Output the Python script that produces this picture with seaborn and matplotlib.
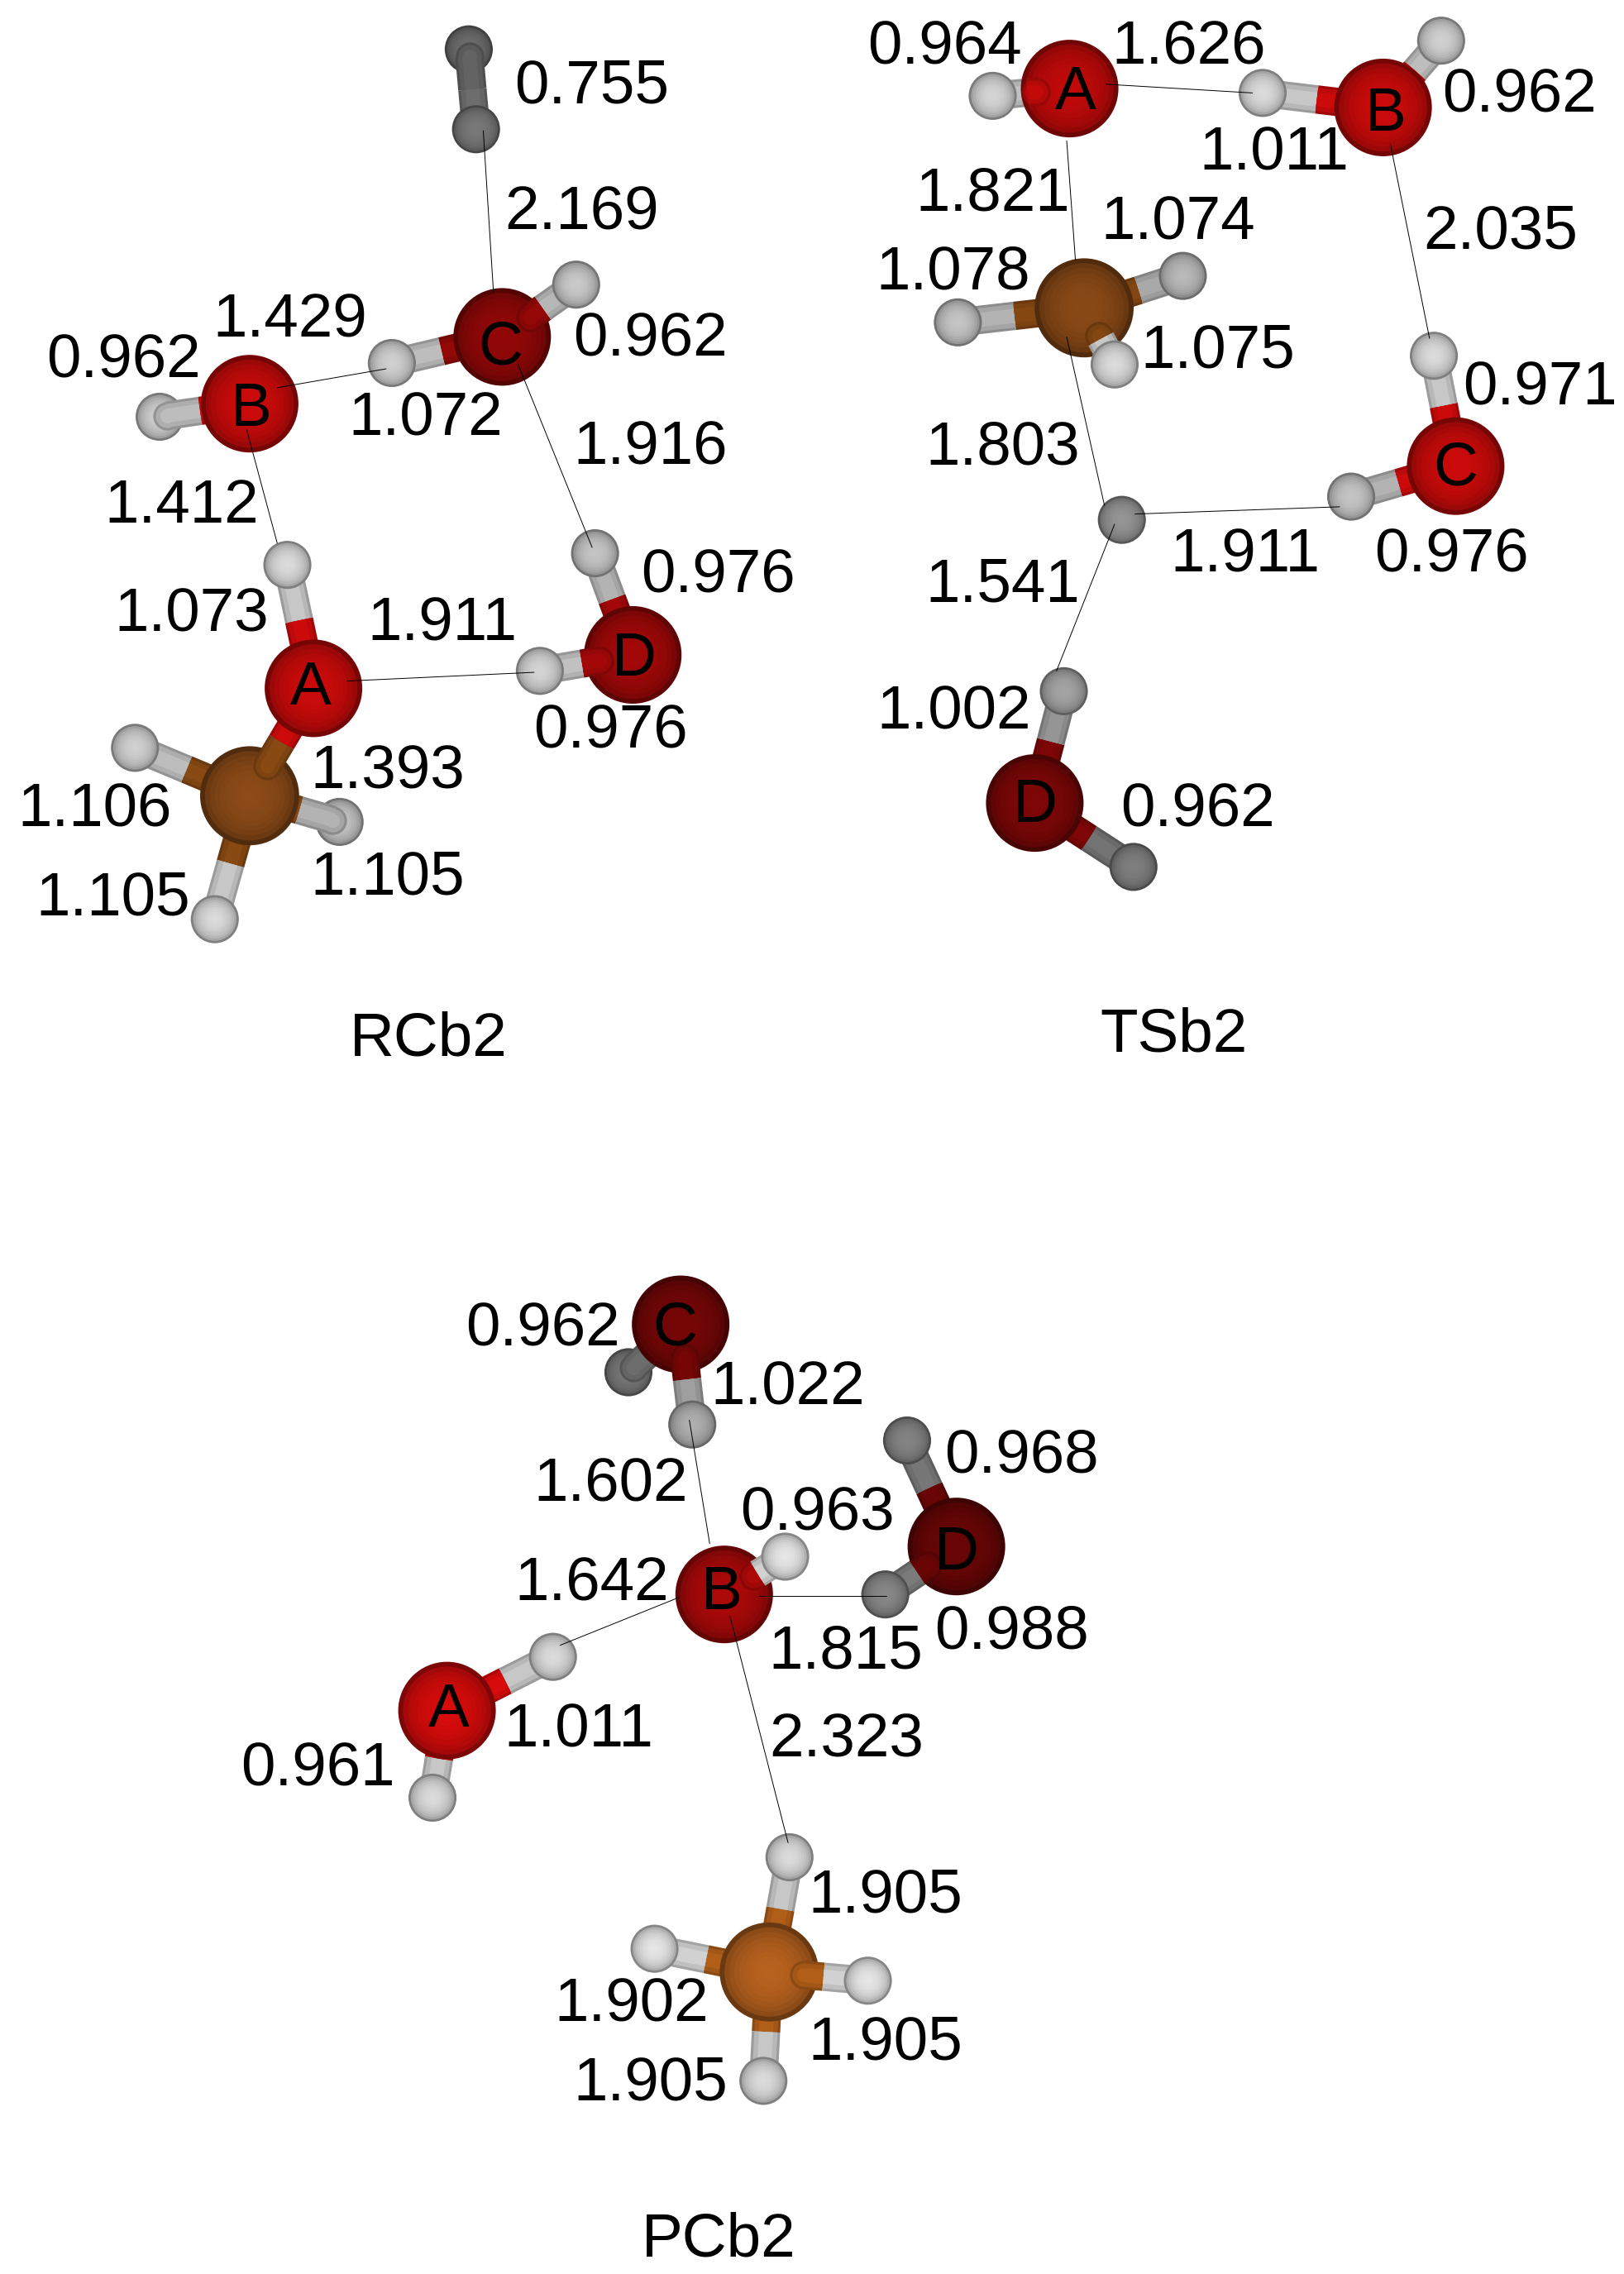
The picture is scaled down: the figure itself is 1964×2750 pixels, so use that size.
import numpy as np
import pandas as pd
import seaborn as sns
import matplotlib
matplotlib.use("Agg")
import matplotlib.pyplot as plt

# ---------- RCb2 ----------
rc_elem = ["O","O","O","O","C","H","H","H","H","H","H","H","H","H","H","H"]
rc_x = [216,172,346,436,172,198,93,148,234,110,270,397,410,372,323,328]
rc_y = [474,278,232,451,548,389,515,633,566,287,250,196,381,462,34,89]
rc_z = [.90,.85,.50,.60,.70,.80,.80,.90,.65,.80,.70,.60,.65,.65,.20,.25]
rc_shade = [1.0,1.0,.72,.80,.92,1.0,.95,1.0,.90,.95,.95,.92,.90,.97,.50,.55]
rc_bonds = [(0,4),(0,5),(1,9),(2,10),(2,11),(3,12),(3,13),(4,6),(4,7),(4,8),(14,15)]
rc_over = [(4,0),(2,11),(3,13),(9,1),(8,4),(14,15)]
rc_thin_x0 = [333,191,357,170,239]
rc_thin_y0 = [90,267,251,296,469]
rc_thin_x1 = [340,266,408,191,368]
rc_thin_y1 = [201,254,377,374,463]
rc_text = ["0.755","2.169","1.429","0.962","0.962","1.072","1.916","1.412","0.976","1.073","1.911","0.976","1.393","1.106","1.105","1.105","RCb2","A","B","C","D"]
rc_tx = [408,401,200,85,448,293,448,125,495,132,305,421,267,65,78,267,295,214,173,345,437]
rc_ty = [58,145,219,247,232,287,307,347,395,422,428,502,530,556,617,603,714,472,280,238,452]

# ---------- TSb2 ----------
ts_elem = ["O","O","O","O","C","H","H","H","H","H","H","H","H","H","H","H"]
ts_x = [737,953,1003,713,747,684,870,993,988,931,773,733,781,660,815,768]
ts_y = [61,74,321,553,212,66,64,28,245,342,358,476,597,222,190,251]
ts_z = [.80,.80,.80,.30,.65,.70,.75,.70,.85,.85,.50,.40,.25,.60,.60,.90]
ts_shade = [.95,1.0,1.0,.62,.90,.97,1.0,.95,1.0,.90,.68,.75,.58,.90,.85,1.0]
ts_bonds = [(0,5),(1,6),(1,7),(2,8),(2,9),(3,11),(3,12),(4,13),(4,14),(4,15)]
ts_over = [(0,5),(4,15)]
ts_thin_x0 = [762,735,735,782,768,958]
ts_thin_y0 = [58,97,232,354,361,99]
ts_thin_x1 = [863,741,761,923,728,985]
ts_thin_y1 = [64,179,348,349,462,233]
ts_text = ["0.964","1.626","0.962","1.011","1.821","1.074","1.078","2.035","1.075","0.971","1.803","1.911","0.976","1.541","1.002","0.962","TSb2","A","B","C","D"]
ts_tx = [651,819,1047,878,684,812,657,1034,839,1061,691,858,1000,691,657,825,809,741,955,1003,713]
ts_ty = [31,31,64,104,132,152,186,158,240,266,307,381,381,401,489,556,711,62,77,321,553]

# ---------- PCb2 ----------
pc_elem = ["O","O","O","O","C","H","H","H","H","H","H","H","H","H","H","H"]
pc_x = [308,499,469,659,530,381,298,541,433,477,625,610,544,451,598,526]
pc_y = [1178,1098,912,1065,1358,1141,1238,1072,945,981,992,1098,1279,1342,1364,1433]
pc_z = [.80,.60,.20,.30,.70,.75,.75,.70,.15,.30,.25,.35,.80,.90,.90,.85]
pc_shade = [1.06,.85,.58,.52,1.2,1.0,1.0,1.05,.55,.80,.60,.62,1.0,1.05,1.05,1.0]
pc_bonds = [(0,5),(0,6),(1,7),(2,8),(2,9),(3,10),(3,11),(4,12),(4,13),(4,14),(4,15)]
pc_over = [(2,9),(8,2),(1,7),(3,11),(4,14)]
pc_thin_x0 = [475,386,523,503]
pc_thin_y0 = [978,1133,1099,1113]
pc_thin_x1 = [489,468,611,543]
pc_thin_y1 = [1063,1100,1099,1269]
pc_text = ["0.962","1.022","0.968","1.602","0.963","1.642","0.988","1.815","1.011","2.323","0.961","1.905","1.902","1.905","1.905","PCb2","C","B","D","A"]
pc_tx = [374,543,704,421,563,408,697,583,399,583,219,610,435,610,448,495,465,497,659,309]
pc_ty = [914,954,1001,1021,1041,1089,1122,1136,1190,1197,1217,1304,1379,1405,1433,1541,913,1095,1068,1176]

# ---------- styles ----------
W, H = 1119, 1566
PT = 1964 / 1115 * 0.72       # points per picture unit
RADIUS = {"O": 33.5, "C": 34.0, "H": 16.5}
STUB = {"O": 0.70, "C": 0.70, "H": 0.30}
BASE = {"O": (0.80, 0.04, 0.04), "C": (0.60, 0.32, 0.10), "H": (0.86, 0.86, 0.86)}
BOND_BASE = {"O": (0.80, 0.04, 0.04), "C": (0.58, 0.31, 0.08), "H": (0.78, 0.78, 0.78)}
BOND_W = 19.5
FONT = 53.7
N_LAYERS = 10

sns.set_theme(style="white")
plt.rcParams["font.family"] = ["Liberation Sans", "DejaVu Sans"]
fig = plt.figure(figsize=(19.64, 27.5), dpi=100)
ax = fig.add_axes([0, 0, 1, 1])


def scaled(col, f):
    return tuple(min(1.0, c * f) for c in col)


def draw_atom(x, y, elem, shade, zo):
    rad = np.linspace(1.0, 0.12, N_LAYERS)
    layers = list(range(N_LAYERS))
    df = pd.DataFrame({"x": [x] * N_LAYERS, "y": [y] * N_LAYERS, "layer": layers})
    pal = {}
    siz = {}
    for k, r in zip(layers, rad):
        pal[k] = scaled(BASE[elem], shade * (0.58 + 0.42 * np.sqrt(max(0.0, 1 - r ** 2))))
        siz[k] = (2 * r * RADIUS[elem] * PT) ** 2
    sns.scatterplot(data=df, x="x", y="y", hue="layer", palette=pal, size="layer",
                    sizes=siz, linewidth=0, legend=False, ax=ax, zorder=zo)


def draw_half_bond(xa, ya, xm, ym, elem, shade, zo, over):
    col = BOND_BASE[elem]
    if over:
        d = np.hypot(xm - xa, ym - ya)
        t = min(0.9, STUB[elem] * RADIUS[elem] / d)
        xa, ya = xa + t * (xm - xa), ya + t * (ym - ya)
    for wf, bf in ((1.0, 0.78), (0.82, 0.92), (0.5, 1.0)):
        c = scaled(col, shade * bf)
        ax.plot([xa, xm], [ya, ym], color=c, lw=BOND_W * wf * PT,
                solid_capstyle="butt", zorder=zo)
        if over:
            sns.scatterplot(x=[xa], y=[ya], color=c, s=(BOND_W * wf * PT) ** 2,
                            linewidth=0, legend=False, ax=ax, zorder=zo)


def draw_molecule(elem, xs, ys, zs, shade, bonds, over, tx0, ty0, tx1, ty1, text, tx, ty, base_z):
    for i in range(len(xs)):
        draw_atom(xs[i], ys[i], elem[i], shade[i], base_z + zs[i])
    for a, b in bonds:
        fa = 0.55 if elem[b] == "H" and elem[a] != "H" else 0.5
        xm = xs[a] + fa * (xs[b] - xs[a])
        ym = ys[a] + fa * (ys[b] - ys[a])
        for i, j in ((a, b), (b, a)):
            on_top = (i, j) in over
            zo = base_z + zs[i] + (0.01 if on_top else -0.01)
            draw_half_bond(xs[i], ys[i], xm, ym, elem[i], shade[i], zo, on_top)
    for x0, y0, x1, y1 in zip(tx0, ty0, tx1, ty1):
        ax.plot([x0, x1], [y0, y1], color="black", lw=0.7, zorder=20)
    for s, x, y in zip(text, tx, ty):
        ax.text(x, y + 13, s, fontsize=FONT, color="black", ha="center", va="baseline", zorder=30)


draw_molecule(rc_elem, rc_x, rc_y, rc_z, rc_shade, rc_bonds, rc_over,
              rc_thin_x0, rc_thin_y0, rc_thin_x1, rc_thin_y1, rc_text, rc_tx, rc_ty, 2)
draw_molecule(ts_elem, ts_x, ts_y, ts_z, ts_shade, ts_bonds, ts_over,
              ts_thin_x0, ts_thin_y0, ts_thin_x1, ts_thin_y1, ts_text, ts_tx, ts_ty, 6)
draw_molecule(pc_elem, pc_x, pc_y, pc_z, pc_shade, pc_bonds, pc_over,
              pc_thin_x0, pc_thin_y0, pc_thin_x1, pc_thin_y1, pc_text, pc_tx, pc_ty, 10)

ax.set_xlim(0, W)
ax.set_ylim(H, 0)
ax.axis("off")
fig.savefig("out.png", dpi=100, facecolor="white")
